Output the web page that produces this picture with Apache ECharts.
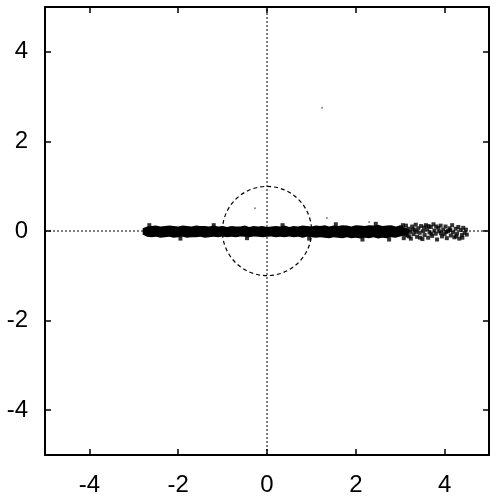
<!DOCTYPE html>
<html>
<head>
<meta charset="utf-8">
<script src="https://cdn.jsdelivr.net/npm/echarts@6/dist/echarts.min.js"></script>
<style>
  html, body { margin: 0; padding: 0; background: #fff; }
  #chart { width: 491px; height: 504px; }
</style>
</head>
<body>
<div id="chart"></div>
<script>
// Axis range and tick positions (same on both axes)
const axisMin = -5;
const axisMax = 5;
const tickValues = [-4, -2, 0, 2, 4];

// Dense part of the point cloud: x positions with upper / lower edge of the band
const bandX = [
  -2.8, -2.7, -2.6, -2.5, -2.4, -2.3, -2.2, -2.1, -2.0, -1.9,
  -1.8, -1.7, -1.6, -1.5, -1.4, -1.3, -1.2, -1.1, -1.0, -0.9,
  -0.8, -0.7, -0.6, -0.5, -0.4, -0.3, -0.2, -0.1, 0.0, 0.1,
  0.2, 0.3, 0.4, 0.5, 0.6, 0.7, 0.8, 0.9, 1.0, 1.1,
  1.2, 1.3, 1.4, 1.5, 1.6, 1.7, 1.8, 1.9, 2.0, 2.1,
  2.2, 2.3, 2.4, 2.5, 2.6, 2.7, 2.8, 2.9, 3.0, 3.1,
  3.2
];
const bandTop = [
  0.06, 0.10, 0.11, 0.12, 0.10, 0.11, 0.12, 0.11, 0.10, 0.12,
  0.11, 0.10, 0.12, 0.11, 0.11, 0.10, 0.12, 0.10, 0.11, 0.09,
  0.11, 0.10, 0.10, 0.12, 0.09, 0.11, 0.10, 0.11, 0.09, 0.10,
  0.11, 0.10, 0.12, 0.09, 0.11, 0.10, 0.12, 0.11, 0.10, 0.12,
  0.11, 0.13, 0.10, 0.12, 0.11, 0.13, 0.12, 0.10, 0.13, 0.12,
  0.11, 0.13, 0.12, 0.14, 0.11, 0.12, 0.13, 0.10, 0.12, 0.08,
  0.04
];
const bandBottom = [
  -0.08, -0.13, -0.14, -0.13, -0.15, -0.14, -0.13, -0.15, -0.14, -0.13,
  -0.15, -0.14, -0.14, -0.13, -0.15, -0.14, -0.13, -0.14, -0.12, -0.14,
  -0.13, -0.14, -0.12, -0.13, -0.14, -0.12, -0.13, -0.14, -0.13, -0.12,
  -0.14, -0.13, -0.14, -0.12, -0.14, -0.13, -0.15, -0.13, -0.14, -0.15,
  -0.14, -0.15, -0.16, -0.14, -0.15, -0.16, -0.14, -0.16, -0.15, -0.17,
  -0.15, -0.16, -0.14, -0.17, -0.15, -0.16, -0.14, -0.15, -0.12, -0.10,
  -0.05
];

// Sparser tail of the cloud on the right
const tailPoints = [
  [3.02, 0.08], [3.05, -0.05], [3.08, -0.16], [3.10, 0.02], [3.13, 0.12],
  [3.16, -0.10], [3.19, 0.05], [3.22, -0.02], [3.24, -0.17], [3.27, 0.10],
  [3.30, -0.07], [3.33, 0.03], [3.35, 0.14], [3.38, -0.13], [3.41, 0.06],
  [3.44, -0.04], [3.47, 0.11], [3.50, -0.18], [3.52, 0.00], [3.55, -0.09],
  [3.58, 0.13], [3.61, 0.04], [3.63, -0.15], [3.66, -0.03], [3.69, 0.09],
  [3.72, -0.11], [3.75, 0.15], [3.77, 0.01], [3.80, -0.06], [3.83, -0.19],
  [3.86, 0.07], [3.88, -0.01], [3.91, 0.12], [3.94, -0.12], [3.97, 0.03],
  [4.00, -0.07], [4.02, 0.10], [4.05, -0.16], [4.08, 0.00], [4.11, 0.06],
  [4.14, -0.10], [4.17, 0.13], [4.19, -0.03], [4.22, -0.14], [4.25, 0.05],
  [4.28, -0.06], [4.31, 0.09], [4.33, -0.17], [4.36, 0.02], [4.39, -0.09],
  [4.42, 0.07], [4.45, -0.04], [4.48, 0.03], [4.50, -0.08],
  [3.06, 0.13], [3.12, -0.08], [3.20, -0.12], [3.28, 0.03], [3.36, -0.02],
  [3.45, -0.15], [3.54, 0.08], [3.64, 0.11], [3.70, -0.06], [3.81, 0.10],
  [3.92, -0.05], [4.04, -0.02], [4.13, 0.02], [4.26, -0.12], [4.40, -0.15],
  [-2.65, 0.13], [-1.95, -0.17], [-1.2, 0.13], [-0.45, -0.16], [0.35, 0.13],
  [0.95, -0.17], [1.55, 0.15], [2.15, -0.19], [2.45, 0.16], [2.75, -0.19]
];

// Isolated stray points
const strayPoints = [[1.24, 2.75], [1.35, 0.29], [-0.27, 0.51], [2.3, 0.2]];

// Unit circle: centre x, centre y, radius
const unitCircle = [[0, 0, 1]];

// Zero reference lines
const horizontalZero = [[axisMin, 0], [axisMax, 0]];
const verticalZero = [[0, axisMin], [0, axisMax]];

const bandData = bandX.map((x, i) => [x, bandTop[i], bandBottom[i]]);

const labelFont = { color: '#000', fontSize: 24, fontFamily: 'Liberation Sans, Arial, sans-serif' };

function makeAxis(position, showLabels, margin) {
  return {
    type: 'value',
    position: position,
    min: axisMin,
    max: axisMax,
    axisLine: { show: true, onZero: false, lineStyle: { color: '#000', width: 2 } },
    axisTick: { show: true, inside: true, length: 6, customValues: tickValues,
                lineStyle: { color: '#000', width: 1.5 } },
    axisLabel: Object.assign({ show: showLabels, customValues: tickValues, margin: margin }, labelFont),
    splitLine: { show: false }
  };
}

const chart = echarts.init(document.getElementById('chart'), null, { renderer: 'canvas' });

chart.setOption({
  animation: false,
  backgroundColor: '#fff',
  grid: { left: 45, right: 2, top: 7, bottom: 49, containLabel: false },
  xAxis: [makeAxis('bottom', true, 18), makeAxis('top', false, 8)],
  yAxis: [makeAxis('left', true, 17), makeAxis('right', false, 8)],
  series: [
    {
      type: 'line', data: horizontalZero, symbol: 'none', silent: true,
      lineStyle: { color: '#000', width: 1, type: [2, 2] }, z: 1
    },
    {
      type: 'line', data: verticalZero, symbol: 'none', silent: true,
      lineStyle: { color: '#000', width: 1, type: [2, 2] }, z: 1
    },
    {
      type: 'custom', data: bandData, z: 3, silent: true,
      encode: { x: 0, y: [1, 2] },
      renderItem: function (params, api) {
        if (params.dataIndex !== 0) return null;
        const upper = bandData.map(d => api.coord([d[0], d[1]]));
        const lower = bandData.map(d => api.coord([d[0], d[2]])).reverse();
        return {
          type: 'polygon',
          shape: { points: upper.concat(lower) },
          style: { fill: '#000', stroke: 'none' }
        };
      }
    },
    {
      type: 'scatter', data: tailPoints, symbol: 'rect', symbolSize: 4, z: 3, silent: true,
      itemStyle: { color: '#000' }
    },
    {
      type: 'scatter', data: strayPoints, symbolSize: 2, z: 3, silent: true,
      itemStyle: { color: '#666' }
    },
    {
      type: 'custom', data: unitCircle, z: 4, silent: true,
      renderItem: function (params, api) {
        const c = api.coord([api.value(0), api.value(1)]);
        const r = api.value(2);
        const sx = api.size([r, 0])[0];
        const sy = api.size([0, r])[1];
        return {
          type: 'circle',
          shape: { cx: c[0], cy: c[1], r: (sx + sy) / 2 },
          style: { fill: 'none', stroke: '#000', lineWidth: 1.2, lineDash: [4, 3] }
        };
      }
    }
  ]
});
</script>
</body>
</html>
